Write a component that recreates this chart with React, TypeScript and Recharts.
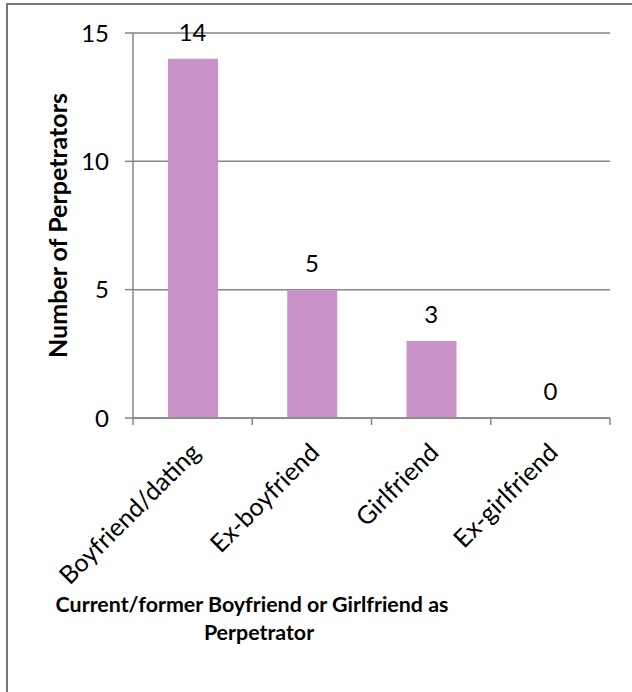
import { ComposedChart, Bar, Line, XAxis, YAxis, CartesianGrid, LabelList } from "recharts";

const categories = ["Boyfriend/dating", "Ex-boyfriend", "Girlfriend", "Ex-girlfriend"];
const perpetrators = [14, 5, 3, 0];
const yTicks = [0, 5, 10, 15];

const FONT = "Lato, 'Liberation Sans', sans-serif";
const GRAY = "#868686";
const BAR = "#c892c8";

// plot box: x 133..610, y 33..418
const PLOT_LEFT = 133;
const PLOT_RIGHT = 610;
const BAND = (PLOT_RIGHT - PLOT_LEFT) / categories.length;

const data = categories.map((name, i) => ({ name, value: perpetrators[i] }));

function CategoryTick(props: any) {
  const { x, y, payload, index } = props;
  const half = BAND / 2;
  const tx = x + 9;
  const ty = y + 36;
  return (
    <g>
      <line x1={x - half} x2={x - half} y1={y} y2={y + 7} stroke={GRAY} strokeWidth={1.5} />
      {index === categories.length - 1 && (
        <line x1={x + half} x2={x + half} y1={y} y2={y + 7} stroke={GRAY} strokeWidth={1.5} />
      )}
      <text
        x={tx}
        y={ty}
        transform={`rotate(-45, ${tx}, ${ty})`}
        textAnchor="end"
        fill="#000"
        fontSize={25}
        fontFamily={FONT}
      >
        {payload.value}
      </text>
    </g>
  );
}

function XTitle() {
  return (
    <g fontFamily={FONT} fontSize={21.4} fontWeight={700} fill="#000" textAnchor="middle">
      <text x={252} y={612}>Current/former Boyfriend or Girlfriend as</text>
      <text x={259} y={640}>Perpetrator</text>
    </g>
  );
}

function YTitle(props: any) {
  const vb = props.viewBox || {};
  const cy = (vb.y ?? 33) + (vb.height ?? 385) / 2;
  const cx = 57;
  return (
    <text
      x={cx}
      y={cy}
      transform={`rotate(-90, ${cx}, ${cy})`}
      textAnchor="middle"
      dominantBaseline="central"
      fontFamily={FONT}
      fontSize={25}
      fontWeight={700}
      fill="#000"
    >
      Number of Perpetrators
    </text>
  );
}

export default function App() {
  return (
    <div
      style={{
        position: "absolute",
        left: 0,
        top: 0,
        width: 632,
        height: 692,
        overflow: "hidden",
        background: "#fff",
      }}
    >
      <div
        style={{
          position: "absolute",
          left: 6,
          top: 3,
          width: 700,
          height: 760,
          border: "2px solid #787878",
        }}
      />
      <div style={{ position: "absolute", left: 0, top: 0 }}>
        <ComposedChart
          width={632}
          height={692}
          data={data}
          margin={{ top: 33, right: 632 - PLOT_RIGHT, bottom: 0, left: 0 }}
        >
          <CartesianGrid vertical={false} stroke={GRAY} strokeWidth={1.5} />
          <XAxis
            dataKey="name"
            height={274}
            axisLine={{ stroke: GRAY, strokeWidth: 1.5 }}
            tickLine={false}
            tickSize={0}
            tickMargin={0}
            interval={0}
            tick={<CategoryTick />}
            label={<XTitle />}
          />
          <YAxis
            width={PLOT_LEFT}
            domain={[0, 15]}
            ticks={yTicks}
            axisLine={{ stroke: GRAY, strokeWidth: 1.5 }}
            tickLine={{ stroke: GRAY, strokeWidth: 1.5 }}
            tickSize={8}
            tickMargin={16}
            tick={{ fill: "#000", fontSize: 24, fontFamily: FONT }}
            label={<YTitle />}
          />
          <Bar dataKey="value" fill={BAR} barSize={50} isAnimationActive={false} />
          {/* invisible series carrying the value labels (so the 0 is shown too) */}
          <Line
            dataKey="value"
            stroke="none"
            dot={false}
            activeDot={false}
            legendType="none"
            isAnimationActive={false}
          >
            <LabelList
              dataKey="value"
              position="top"
              offset={18}
              fill="#000"
              fontSize={24}
              fontFamily={FONT}
            />
          </Line>
        </ComposedChart>
      </div>
    </div>
  );
}
